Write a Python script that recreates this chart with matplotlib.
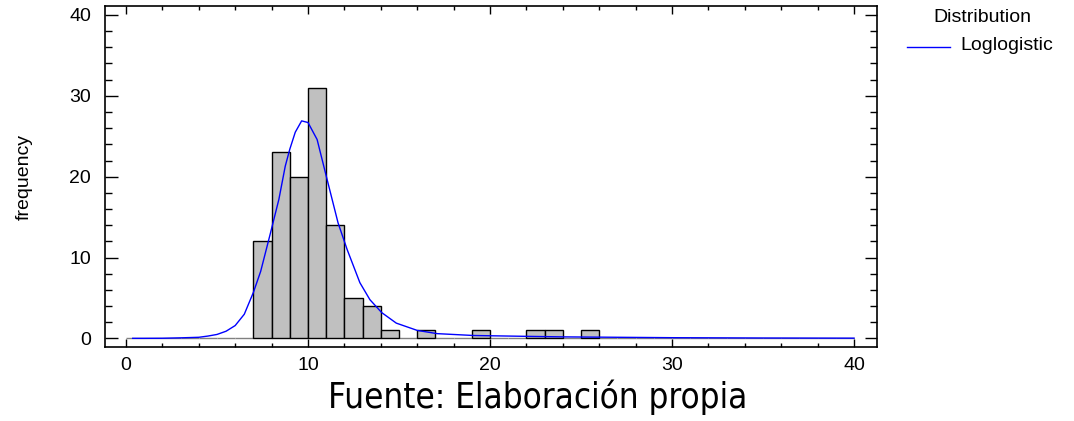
import numpy as np
import matplotlib
matplotlib.use("Agg")
import matplotlib.pyplot as plt
from matplotlib.lines import Line2D
from matplotlib.ticker import MultipleLocator

# ── data ───────────────────────────────────────────────────────────────────────
bin_edges = list(range(0, 41))
counts = [0, 0, 0, 0, 0, 0, 0, 12, 23, 20,
          31, 14, 5, 4, 1, 0, 1, 0, 0, 1,
          0, 0, 1, 1, 0, 1, 0, 0, 0, 0,
          0, 0, 0, 0, 0, 0, 0, 0, 0, 0]

fit_x = [0.37, 1, 2, 3, 4, 4.5, 5, 5.5, 6, 6.5, 7, 7.4, 7.9, 8.4, 8.75, 9.0,
         9.3, 9.65, 10.0, 10.5, 11.0, 11.65, 12.15, 12.85, 13.4, 14.05, 14.85,
         16.0, 17.1, 19.1, 21.6, 24, 27, 30, 35, 40]
fit_y = [0.02, 0.02, 0.03, 0.08, 0.15, 0.3, 0.5, 0.9, 1.6, 3.0, 5.7, 8.3, 12.7,
         17.2, 21.3, 23.4, 25.5, 26.9, 26.7, 24.6, 20.1, 14.3, 11.0, 6.9, 4.8,
         3.2, 1.9, 1.0, 0.6, 0.37, 0.28, 0.2, 0.15, 0.1, 0.06, 0.04]

plt.rcParams["font.family"] = ["Liberation Sans", "DejaVu Sans"]

fig = plt.figure(figsize=(10.74, 4.21), dpi=100)
ax = fig.add_axes([0.0978, 0.1758, 0.7188, 0.8099])

lefts = np.array(bin_edges[:-1])
heights = np.array(counts)
nz = heights > 0
# empty bins show up as a thin grey line along zero
ax.bar(lefts[~nz], heights[~nz], width=1, align="edge", color="#C0C0C0",
       edgecolor="#808080", linewidth=1)
ax.bar(lefts[nz], heights[nz], width=1, align="edge", color="#C0C0C0",
       edgecolor="black", linewidth=1)
ax.plot(fit_x, fit_y, color="#0000FF", linewidth=1)

ax.set_xlim(-1.15, 41.26)
ax.set_ylim(-1.05, 41.1)
ax.xaxis.set_major_locator(MultipleLocator(10))
ax.xaxis.set_minor_locator(MultipleLocator(2))
ax.yaxis.set_major_locator(MultipleLocator(10))
ax.yaxis.set_minor_locator(MultipleLocator(2))
ax.tick_params(axis="both", which="both", direction="in", top=True, right=True,
               width=1, labelsize=14)
ax.tick_params(axis="x", which="major", length=6, pad=7)
ax.tick_params(axis="x", which="minor", length=3)
ax.tick_params(axis="y", which="major", length=9, pad=10)
ax.tick_params(axis="y", which="minor", length=5)
for s in ax.spines.values():
    s.set_linewidth(1.2)

ax.set_ylabel("frequency", fontsize=14, labelpad=26)

fig.text(538 / 1074, 1 - 397 / 421, "Fuente: Elaboración propia",
         fontsize=25, ha="center", va="center",
         family=["DejaVu Sans Condensed", "DejaVu Sans"], fontstretch="condensed")

# legend drawn by hand to the right of the plot
fig.text(982 / 1074, 1 - 17 / 421, "Distribution", fontsize=14, ha="center", va="center")
fig.add_artist(Line2D([907 / 1074, 950 / 1074], [1 - 47 / 421, 1 - 47 / 421],
                      color="#0000FF", linewidth=1, transform=fig.transFigure))
fig.text(960 / 1074, 1 - 46 / 421, "Loglogistic", fontsize=14, ha="left", va="center")

fig.savefig("out.png", dpi=100)
